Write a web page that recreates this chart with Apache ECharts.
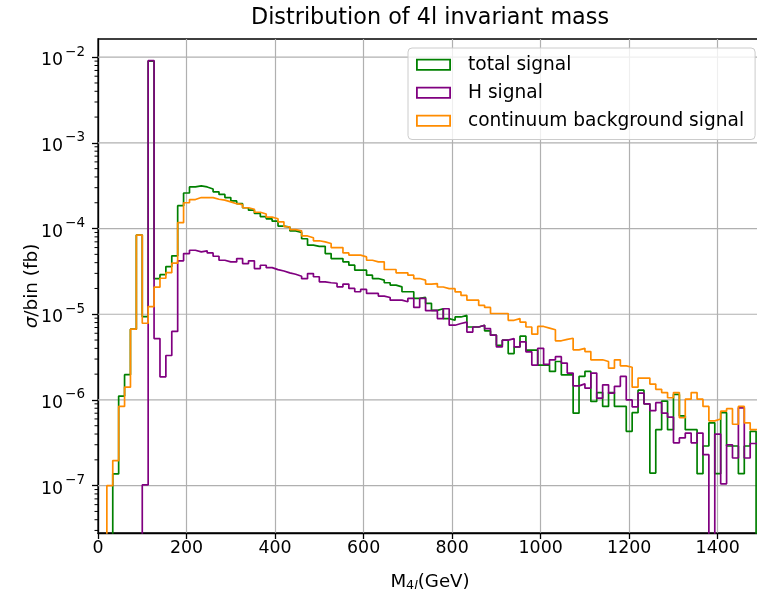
<!DOCTYPE html>
<html>
<head>
<meta charset="utf-8">
<script src="https://cdn.jsdelivr.net/npm/echarts@6/dist/echarts.min.js"></script>
<style>
  html, body { margin: 0; padding: 0; background: #fff; }
  #chart { width: 757px; height: 592px; }
</style>
</head>
<body>
<div id="chart"></div>
<script>
// histogram binning: 111 bins of 40/3 GeV, from 20 to 1500 GeV
var binStart = 20;
var binWidth = 40 / 3;

var totalSignal = [
  0, 1.37e-7, 1.11e-6, 1.97e-6, 6.7e-6, 8.4e-5, 9.4e-6, 9.0e-3, 2.6e-5, 2.9e-5,
  3.6e-5, 4.8e-5, 1.85e-4, 2.6e-4, 3.06e-4, 3.15e-4, 3.06e-4, 2.9e-4, 2.68e-4, 2.5e-4,
  2.3e-4, 2.1e-4, 1.95e-4, 1.75e-4, 1.64e-4, 1.5e-4, 1.38e-4, 1.3e-4, 1.22e-4, 1.07e-4,
  1.04e-4, 9.4e-5, 9.0e-5, 7.6e-5, 6.4e-5, 6.2e-5, 6.2e-5, 5.1e-5, 4.47e-5, 4.47e-5,
  4.09e-5, 3.74e-5, 3.27e-5, 3.27e-5, 2.86e-5, 2.61e-5, 2.5e-5, 2.33e-5, 2.19e-5, 2.09e-5,
  1.83e-5, 1.83e-5, 1.53e-5, 1.57e-5, 1.34e-5, 1.11e-5, 1.16e-5, 8.9e-6, 8.5e-6, 9.3e-6,
  9.7e-6, 7.1e-6, 7.1e-6, 7.45e-6, 6.4e-6, 5.7e-6, 4.35e-6, 4.98e-6, 3.48e-6, 4.16e-6,
  5.55e-6, 3.81e-6, 3.81e-6, 2.55e-6, 2.57e-6, 2.15e-6, 2.81e-6, 1.96e-6, 1.96e-6, 7.0e-7,
  1.88e-6, 2.15e-6, 9.6e-7, 1.22e-6, 8.4e-7, 1.22e-6, 8.4e-7, 8.4e-7, 4.3e-7, 7.1e-7,
  1.3e-6, 9.0e-7, 1.4e-7, 4.5e-7, 9.7e-7, 4.5e-7, 1.16e-6, 6.5e-7, 4.5e-7, 4.5e-7,
  1.38e-7, 2.9e-7, 5.4e-7, 1.38e-7, 7.1e-7, 2.9e-7, 2.9e-7, 1.38e-7, 2.9e-7, 4.3e-7,
  0
];

var hSignal = [
  0, 0, 0, 0, 0, 0, 1.02e-7, 9.1e-3, 5.2e-6, 1.86e-6,
  3.3e-6, 6.3e-6, 4.2e-5, 5.1e-5, 5.58e-5, 5.34e-5, 5.5e-5, 5.2e-5, 4.75e-5, 4.27e-5,
  4.08e-5, 4.08e-5, 4.47e-5, 3.9e-5, 4.2e-5, 3.41e-5, 3.73e-5, 3.5e-5, 3.32e-5, 3.2e-5,
  3.04e-5, 2.93e-5, 2.78e-5, 2.6e-5, 2.98e-5, 2.74e-5, 2.39e-5, 2.33e-5, 2.3e-5, 2.09e-5,
  2.25e-5, 2.0e-5, 1.83e-5, 1.95e-5, 1.75e-5, 1.75e-5, 1.63e-5, 1.57e-5, 1.46e-5, 1.46e-5,
  1.4e-5, 1.53e-5, 1.2e-5, 1.53e-5, 1.1e-5, 1.11e-5, 8.9e-6, 1.16e-5, 7.45e-6, 7.8e-6,
  8.1e-6, 6.2e-6, 7.1e-6, 7.45e-6, 6.8e-6, 5.7e-6, 4.16e-6, 4.98e-6, 5.2e-6, 4.16e-6,
  4.77e-6, 3.64e-6, 2.55e-6, 4.0e-6, 2.6e-6, 2.94e-6, 3.2e-6, 2.69e-6, 2.06e-6, 1.46e-6,
  1.54e-6, 1.37e-6, 2.06e-6, 1.05e-6, 1.5e-6, 1.2e-6, 1.44e-6, 1.88e-6, 1.0e-6, 8.3e-7,
  1.2e-6, 9.0e-7, 7.5e-7, 9.3e-7, 7.0e-7, 6.3e-7, 3.16e-7, 3.6e-7, 4.1e-7, 3.16e-7,
  4.1e-7, 2.3e-7, 0, 4.0e-7, 1.05e-7, 3.0e-7, 2.1e-7, 8.1e-7, 2.1e-7, 3.1e-7,
  3.0e-7
];

var bkgSignal = [
  1.0e-7, 1.96e-7, 8.4e-7, 1.41e-6, 6.7e-6, 8.4e-5, 7.85e-6, 1.23e-5, 2.07e-5, 2.63e-5,
  3.06e-5, 3.94e-5, 1.17e-4, 2.0e-4, 2.18e-4, 2.3e-4, 2.3e-4, 2.3e-4, 2.2e-4, 2.15e-4,
  2.05e-4, 1.95e-4, 1.9e-4, 1.75e-4, 1.68e-4, 1.55e-4, 1.48e-4, 1.36e-4, 1.3e-4, 1.2e-4,
  1.05e-4, 9.7e-5, 9.4e-5, 8.2e-5, 7.8e-5, 7.2e-5, 7.0e-5, 6.7e-5, 6.0e-5, 6.0e-5,
  5.2e-5, 4.9e-5, 4.9e-5, 4.67e-5, 4.27e-5, 4.09e-5, 4.09e-5, 3.33e-5, 3.33e-5, 3.04e-5,
  3.04e-5, 2.86e-5, 2.61e-5, 2.5e-5, 2.25e-5, 2.28e-5, 2.08e-5, 1.99e-5, 1.99e-5, 1.82e-5,
  1.66e-5, 1.46e-5, 1.46e-5, 1.27e-5, 1.2e-5, 1.02e-5, 1.02e-5, 1.02e-5, 8.5e-6, 8.9e-6,
  8.1e-6, 7.1e-6, 5.85e-6, 7.2e-6, 6.9e-6, 6.6e-6, 4.9e-6, 5.1e-6, 5.25e-6, 3.84e-6,
  4.0e-6, 3.67e-6, 2.94e-6, 2.94e-6, 2.81e-6, 2.35e-6, 2.94e-6, 2.5e-6, 2.41e-6, 1.41e-6,
  1.8e-6, 1.8e-6, 1.53e-6, 1.33e-6, 1.22e-6, 1.06e-6, 1.22e-6, 6.2e-7, 1.02e-6, 1.22e-6,
  1.02e-6, 8.4e-7, 5.7e-7, 6.0e-7, 7.4e-7, 7.9e-7, 5.2e-7, 8.4e-7, 5.4e-7, 4.5e-7,
  4.5e-7
];

var seriesNames = ['total signal', 'H signal', 'continuum background signal'];
var seriesColors = ['#008000', '#800080', '#ff8c00'];
var decades = [1e-7, 1e-6, 1e-5, 1e-4, 1e-3, 1e-2];
var yMin = 2.8e-8, yMax = 1.63e-2;
var xMin = 0, xMax = 1500;

// empty bins go to the bottom of the log axis, like matplotlib does
var FLOOR = 1e-12;
function stepPoints(vals) {
  var end = binStart + vals.length * binWidth;
  var pts = [[binStart, FLOOR]];
  for (var i = 0; i < vals.length; i++) {
    pts.push([binStart + i * binWidth, vals[i] > 0 ? vals[i] : FLOOR]);
  }
  var last = vals[vals.length - 1];
  pts.push([end, last > 0 ? last : FLOOR]);
  pts.push([end, FLOOR]);
  return pts;
}

// log minor tick positions 2..9 x 10^n
var minorTicks = [];
for (var e = -8; e <= -2; e++) {
  for (var m = 2; m <= 9; m++) {
    var v = m * Math.pow(10, e);
    if (v > yMin && v < yMax) minorTicks.push(v);
  }
}

var FONT = 'DejaVu Sans';
var frameIcon = 'path://M0,0H35V12H0Z M1.8,1.8V10.2H33.2V1.8Z';

var series = [];

// horizontal grid lines at the decades, under the histograms
series.push({
  type: 'custom',
  silent: true,
  z: 1,
  data: decades.map(function (d) { return [xMin, d]; }),
  encode: { x: 0, y: 1 },
  renderItem: function (params, api) {
    var a = api.coord([xMin, api.value(1)]);
    var b = api.coord([xMax, api.value(1)]);
    return { type: 'line', shape: { x1: a[0], y1: a[1], x2: b[0], y2: b[1] },
             style: { stroke: '#b0b0b0', lineWidth: 1.2 } };
  }
});

// minor ticks of the log axis
series.push({
  type: 'custom',
  silent: true,
  clip: false,
  z: 6,
  data: minorTicks.map(function (d) { return [xMin, d]; }),
  encode: { x: 0, y: 1 },
  renderItem: function (params, api) {
    var a = api.coord([xMin, api.value(1)]);
    return { type: 'line', shape: { x1: a[0] - 3.5, y1: a[1], x2: a[0], y2: a[1] },
             style: { stroke: '#000', lineWidth: 1 } };
  }
});

[totalSignal, hSignal, bkgSignal].forEach(function (vals, i) {
  series.push({
    name: seriesNames[i],
    type: 'line',
    step: 'end',
    showSymbol: false,
    symbol: 'none',
    clip: true,
    color: seriesColors[i],
    itemStyle: { color: seriesColors[i] },
    lineStyle: { color: seriesColors[i], width: 1.7 },
    data: stepPoints(vals),
    z: 3 + i
  });
});

var chart = echarts.init(document.getElementById('chart'));
var option = {
  animation: false,
  backgroundColor: '#fff',
  title: {
    text: 'Distribution of 4l invariant mass',
    left: 430,
    top: 7,
    padding: 0,
    textAlign: 'center',
    textStyle: { fontFamily: FONT, fontSize: 22.3, fontWeight: 'normal', color: '#000' }
  },
  legend: {
    orient: 'vertical',
    left: 408,
    top: 48,
    padding: [7, 11, 9, 8],
    itemWidth: 35,
    itemHeight: 12,
    itemGap: 8.5,
    backgroundColor: 'rgba(255,255,255,0.8)',
    borderColor: '#cccccc',
    borderWidth: 1,
    borderRadius: 4,
    itemStyle: { borderWidth: 0 },
    textStyle: { fontFamily: FONT, fontSize: 18.6, color: '#000', lineHeight: 19.5, padding: [0, 0, 0, 12] },
    data: seriesNames.map(function (n) { return { name: n, icon: frameIcon }; })
  },
  grid: {
    show: true,
    left: 98,
    top: 39,
    right: -5,
    bottom: 59,
    containLabel: false,
    outerBoundsMode: 'none',
    borderColor: '#000',
    borderWidth: 1.3,
    backgroundColor: 'transparent'
  },
  xAxis: {
    type: 'value',
    min: xMin,
    max: xMax,
    interval: 200,
    name: 'M{s|4}{si|l}(GeV)',
    nameLocation: 'middle',
    nameGap: 39,
    nameMoveOverlap: false,
    nameTextStyle: {
      fontFamily: FONT, fontSize: 18.2, color: '#000', lineHeight: 20,
      rich: {
        s: { fontFamily: FONT, fontSize: 12.7, color: '#000', lineHeight: 12, verticalAlign: 'bottom' },
        si: { fontFamily: FONT, fontSize: 12.7, color: '#000', lineHeight: 12, verticalAlign: 'bottom', fontStyle: 'italic' }
      }
    },
    axisLine: { onZero: false, lineStyle: { color: '#000', width: 1.3 } },
    axisTick: { length: 6, lineStyle: { color: '#000', width: 1.3 } },
    axisLabel: {
      fontFamily: FONT, fontSize: 17.4, color: '#000', margin: 7, showMaxLabel: false,
      formatter: function (val) { return String(val); }
    },
    splitLine: { show: true, lineStyle: { color: '#b0b0b0', width: 1.2 } }
  },
  yAxis: {
    type: 'log',
    logBase: 10,
    min: yMin,
    max: yMax,
    name: '{i|σ}/bin (fb)',
    nameLocation: 'middle',
    nameRotate: 90,
    nameGap: 57,
    nameMoveOverlap: false,
    nameTextStyle: {
      fontFamily: FONT, fontSize: 18.4, color: '#000',
      rich: { i: { fontFamily: FONT, fontSize: 18.4, color: '#000', fontStyle: 'italic' } }
    },
    axisLine: { show: true, lineStyle: { color: '#000', width: 1.3 } },
    axisTick: { customValues: decades, length: 6, lineStyle: { color: '#000', width: 1.3 } },
    axisLabel: {
      customValues: decades,
      margin: 13,
      formatter: function (val) {
        var p = Math.round(Math.log10(val));
        return '{b|10}{s|\u2212' + Math.abs(p) + '}';
      },
      rich: {
        b: { fontFamily: FONT, fontSize: 17.4, color: '#000', lineHeight: 24, verticalAlign: 'bottom' },
        s: { fontFamily: FONT, fontSize: 13.5, color: '#000', lineHeight: 15, verticalAlign: 'top', padding: [0, 0, 0, 2] }
      }
    },
    splitLine: { show: false }
  },
  series: series
};
chart.setOption(option);
</script>
</body>
</html>
